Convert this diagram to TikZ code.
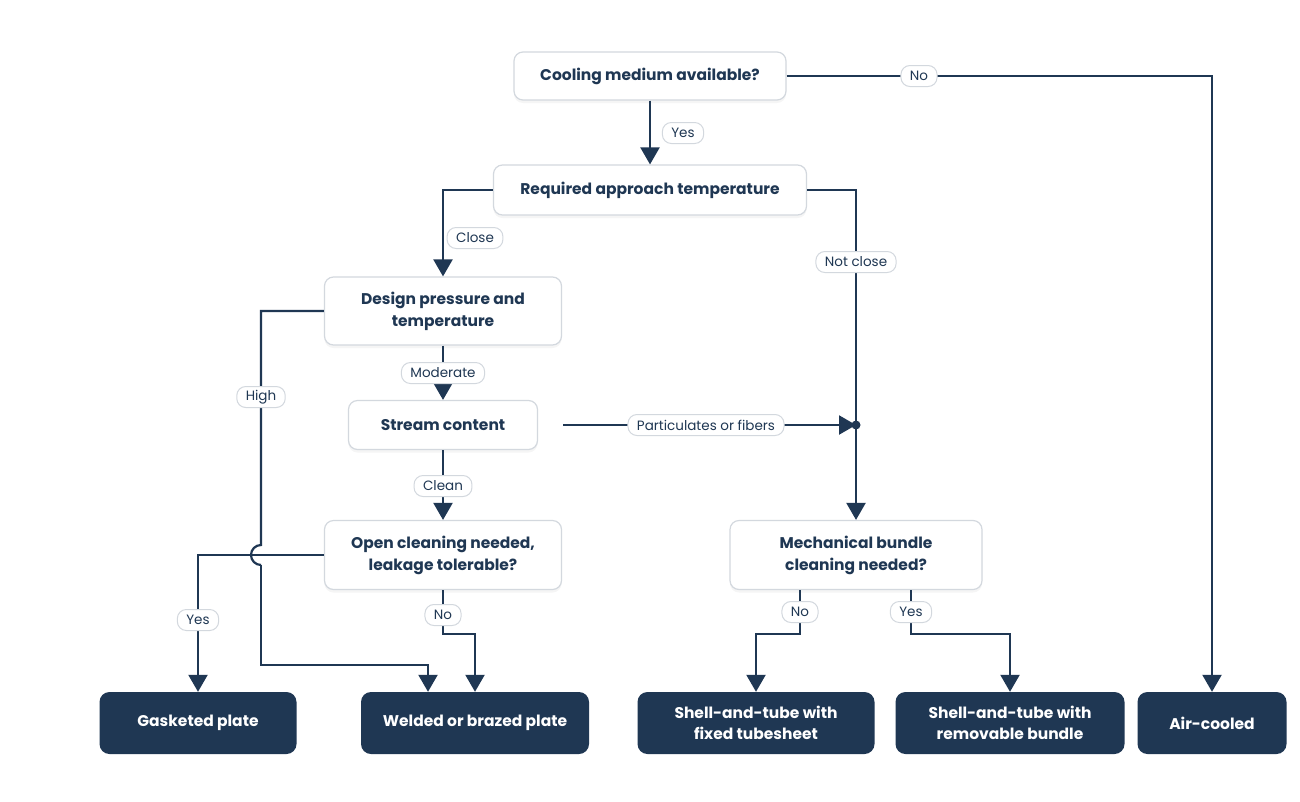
\documentclass[tikz,border=0pt]{standalone}
\usepackage{fontspec}
\setmainfont{Poppins}
\usetikzlibrary{arrows.meta,positioning,shadows}
\definecolor{navy}{HTML}{1F3753}
\definecolor{edgegray}{HTML}{D3D8DE}
\tikzset{
  question/.style={draw=edgegray, line width=1.2pt, fill=white, rounded corners=9pt,
    align=center, text=navy, font=\fontsize{15.5}{22}\selectfont\bfseries,
    drop shadow={shadow xshift=0pt, shadow yshift=-3pt, opacity=0.08}},
  outcome/.style={fill=navy, rounded corners=10pt, align=center, text=white,
    minimum height=62pt, font=\fontsize{15.5}{21}\selectfont\bfseries},
  pill/.style={draw=edgegray, line width=1pt, fill=white, rounded corners=9pt,
    text=navy, inner xsep=9pt, inner ysep=3pt, minimum height=21pt,
    font=\fontsize{13.5}{16}\selectfont},
  flow/.style={draw=navy, line width=2.2pt, -{Triangle[width=19pt,length=17pt]}},
  line/.style={draw=navy, line width=2.2pt},
}
\begin{document}
\begin{tikzpicture}[x=1pt,y=-1pt]
  \useasboundingbox[fill=white] (0,0) rectangle (1300,801);

  % questions
  \node[question, minimum width=272pt, minimum height=48pt] (cool) at (650,76) {Cooling medium available?};
  \node[question, minimum width=313pt, minimum height=50pt] (approach) at (650,190) {Required approach temperature};
  \node[question, minimum width=237pt, minimum height=68pt] (design) at (443,311) {Design pressure and\\temperature};
  \node[question, minimum width=189pt, minimum height=49pt] (stream) at (443,425) {Stream content};
  \node[question, minimum width=237pt, minimum height=69pt] (open) at (443,555) {Open cleaning needed,\\leakage tolerable?};
  \node[question, minimum width=252pt, minimum height=69pt] (mech) at (856,555) {Mechanical bundle\\cleaning needed?};

  % outcomes
  \node[outcome, minimum width=197pt] (gasket) at (198,723) {Gasketed plate};
  \node[outcome, minimum width=228pt] (welded) at (475,723) {Welded or brazed plate};
  \node[outcome, minimum width=237pt] (fixed) at (756,723) {Shell-and-tube with\\fixed tubesheet};
  \node[outcome, minimum width=229pt] (remov) at (1010,723) {Shell-and-tube with\\removable bundle};
  \node[outcome, minimum width=149pt] (air) at (1212,723) {Air-cooled};

  \node[circle, fill=navy, inner sep=0pt, minimum size=9pt] (junc) at (856,425) {};

  % connectors
  \draw[flow] (cool.east) -| (air.north);
  \draw[flow] (cool.south) -- (approach.north);
  \draw[flow] (approach.west) -| (design.north);
  \draw[line] (approach.east) -| (junc.center);
  \draw[flow] (junc.center) -- (mech.north);
  \draw[flow] (design.south) -- (stream.north);
  \draw[flow, shorten <=25pt] (stream.east) -- (junc.center);
  \draw[flow] (stream.south) -- (open.south |- open.north);
  \draw[line] (design.west) -- (261,311) -- (261,545)
    arc[start angle=90, end angle=270, radius=10pt];
  \draw[flow] (261,565) |- (428,665) -- ([xshift=-47pt]welded.north);
  \draw[flow] (open.west) -| (gasket.north);
  \draw[flow] (open.south) -- ++(0,44) -| (welded.north);
  \draw[flow] ([xshift=-56pt]mech.south) -- ++(0,44) -| (fixed.north);
  \draw[flow] ([xshift=55pt]mech.south) -- ++(0,44) -| (remov.north);

  % edge labels
  \node[pill] (lno1) at (919,76) {No};
  \node[pill] (lyes1) at (683,133) {Yes};
  \node[pill] (lclose) at (475,238) {Close};
  \node[pill] (lnotclose) at (856,262) {Not close};
  \node[pill] (lmod) at (443,373) {Moderate};
  \node[pill] (lhigh) at (261,397) {High};
  \node[pill] (lpart) at (706,425) {Particulates or fibers};
  \node[pill] (lclean) at (443,486) {Clean};
  \node[pill] (lyes2) at (198,620) {Yes};
  \node[pill] (lno2) at (443,615) {No};
  \node[pill] (lno3) at (800,612) {No};
  \node[pill] (lyes3) at (911,612) {Yes};
\end{tikzpicture}
\end{document}
